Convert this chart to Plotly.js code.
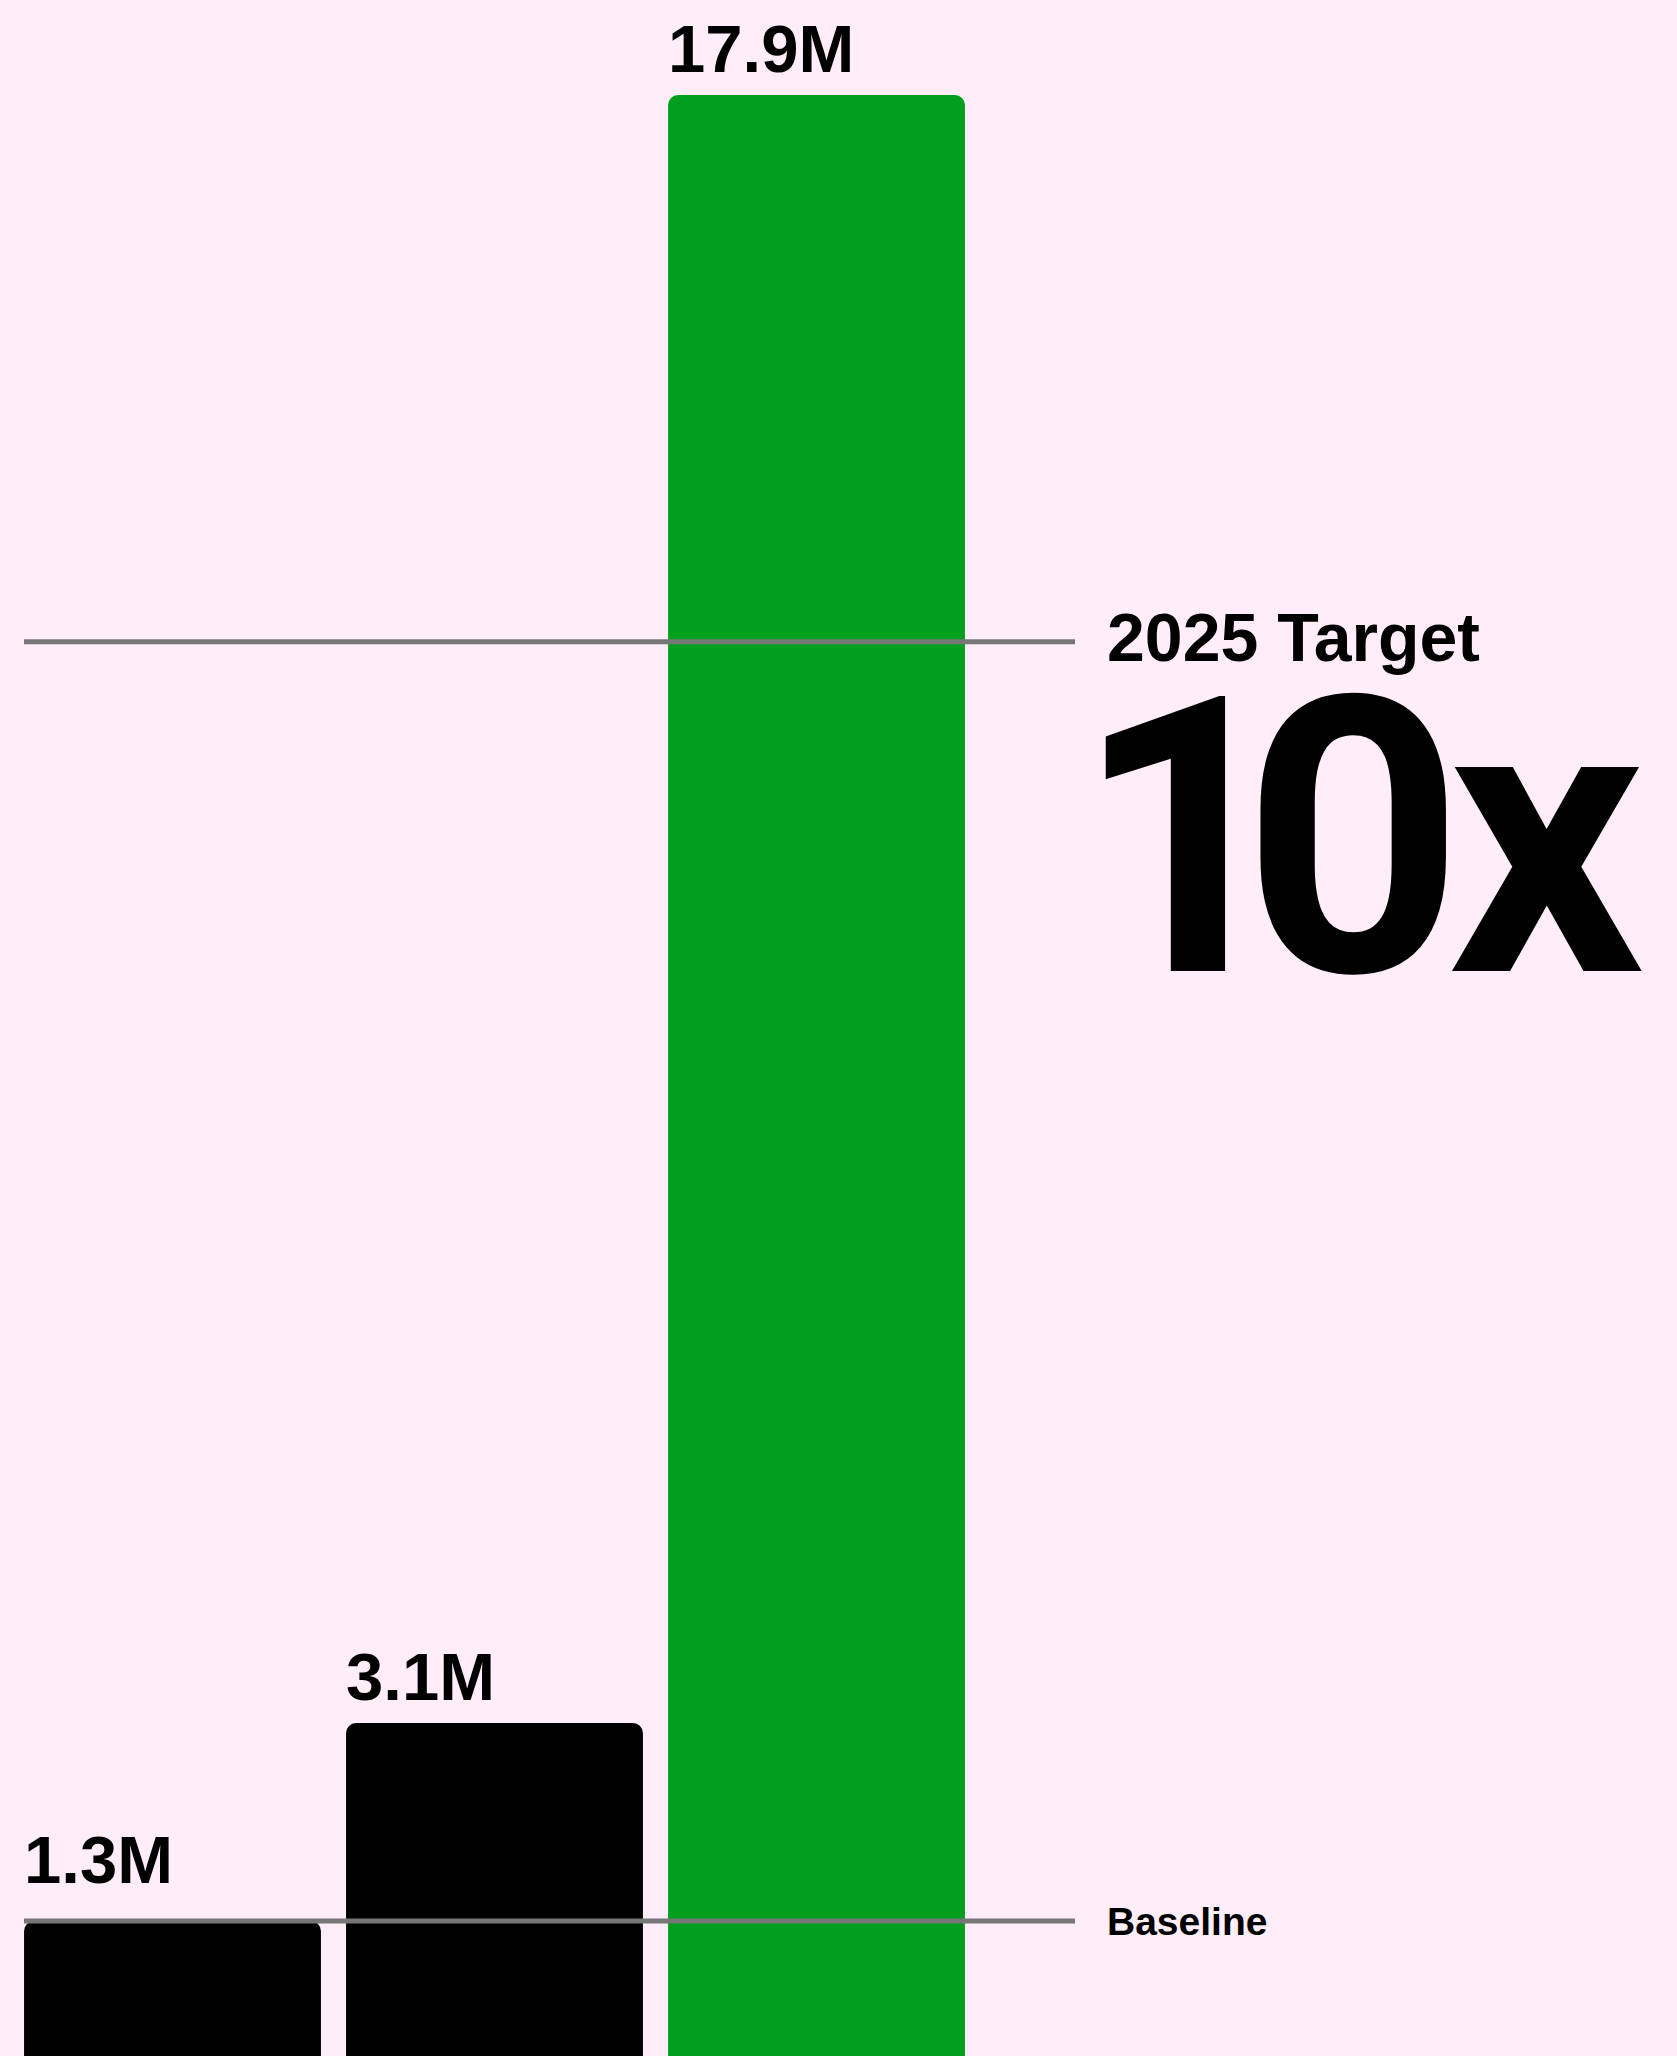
<!DOCTYPE html>
<html>
<head>
<meta charset="utf-8">
<script src="https://cdn.plot.ly/plotly-3.0.1.min.js"></script>
<style>
  html, body { margin: 0; padding: 0; background: #FFEDFA; }
  #chart { width: 1677px; height: 2056px; }
</style>
</head>
<body>
<div id="chart"></div>
<script>
// ---- data ----
const categories = ["Year 1", "Year 2", "Year 3"];
const values = [1.3, 3.1, 17.9];            // millions
const valueLabels = ["1.3M", "3.1M", "17.9M"];
const barColors = ["#000000", "#000000", "#00A01E"];
const baselineValue = 1.3;
const targetValue = 12.93;                  // (≈10x baseline)
const baselineLabel = "Baseline";
const targetLabel = "2025 Target";
const multipleLabel = "10x";

// ---- layout ----
const W = 1677, H = 2056;
const pxPerUnitX = 322;           // one category step in pixels
const xMin = -0.5357;
const xMax = xMin + W / pxPerUnitX;
const yMin = 0.073, yMax = 18.764;
const barWidth = 0.922;
const lineX0 = xMin + 24 / pxPerUnitX;
const lineX1 = xMin + 1075 / pxPerUnitX;
const sideX = xMin + 1106 / pxPerUnitX;
const FONT = "Liberation Sans, Arial, Helvetica, sans-serif";

// tight display tracking for the big multiple (per-character spacing)
const trackings = [-53, -16, 0];
const multipleText = multipleLabel.split("").map((ch, i) =>
  trackings[i] ? '<span style="letter-spacing:' + trackings[i] + 'px">' + ch + '</span>' : ch
).join("");

const trace = {
  type: "bar",
  x: categories,
  y: values,
  width: barWidth,
  marker: { color: barColors, cornerradius: 10, line: { width: 0 } },
  hoverinfo: "skip"
};

const annotations = values.map((v, i) => ({
  x: i, y: v, xref: "x", yref: "y",
  text: "<b>" + valueLabels[i] + "</b>",
  showarrow: false,
  xanchor: "left", yanchor: "bottom",
  xshift: -barWidth / 2 * pxPerUnitX - 1,
  yshift: v === baselineValue ? 23 : 8,   // sit clear of the baseline rule
  borderpad: 0,
  font: { family: FONT, size: 67, color: "#000000" }
}));

annotations.push({
  x: sideX, y: targetValue, xref: "x", yref: "y",
  text: "<b>" + targetLabel + "</b>",
  showarrow: false, xanchor: "left", yanchor: "middle",
  yshift: 5, borderpad: 0,
  font: { family: FONT, size: 68, color: "#000000" }
});
annotations.push({
  x: sideX, y: targetValue, xref: "x", yref: "y",
  text: "<b>" + multipleText + "</b>",
  showarrow: false, xanchor: "left", yanchor: "top",
  yshift: 30, xshift: -33, borderpad: 0,
  font: { family: "Roboto, Liberation Sans, sans-serif", size: 386, color: "#000000" }
});
annotations.push({
  x: sideX, y: baselineValue, xref: "x", yref: "y",
  text: "<b>" + baselineLabel + "</b>",
  showarrow: false, xanchor: "left", yanchor: "middle",
  yshift: 0, borderpad: 0,
  font: { family: FONT, size: 39, color: "#000000" }
});

const shapes = [targetValue, baselineValue].map(v => ({
  type: "line", xref: "x", yref: "y",
  x0: lineX0, x1: lineX1, y0: v, y1: v,
  line: { color: "#777777", width: 5 },
  layer: "above"
}));

const layout = {
  width: W, height: H,
  margin: { l: 0, r: 0, t: 0, b: 0, pad: 0 },
  paper_bgcolor: "#FFEDFA",
  plot_bgcolor: "#FFEDFA",
  showlegend: false,
  xaxis: { range: [xMin, xMax], visible: false, fixedrange: true },
  yaxis: { range: [yMin, yMax], visible: false, fixedrange: true },
  annotations: annotations,
  shapes: shapes
};

Plotly.newPlot("chart", [trace], layout, { staticPlot: true, displayModeBar: false });
</script>
</body>
</html>
